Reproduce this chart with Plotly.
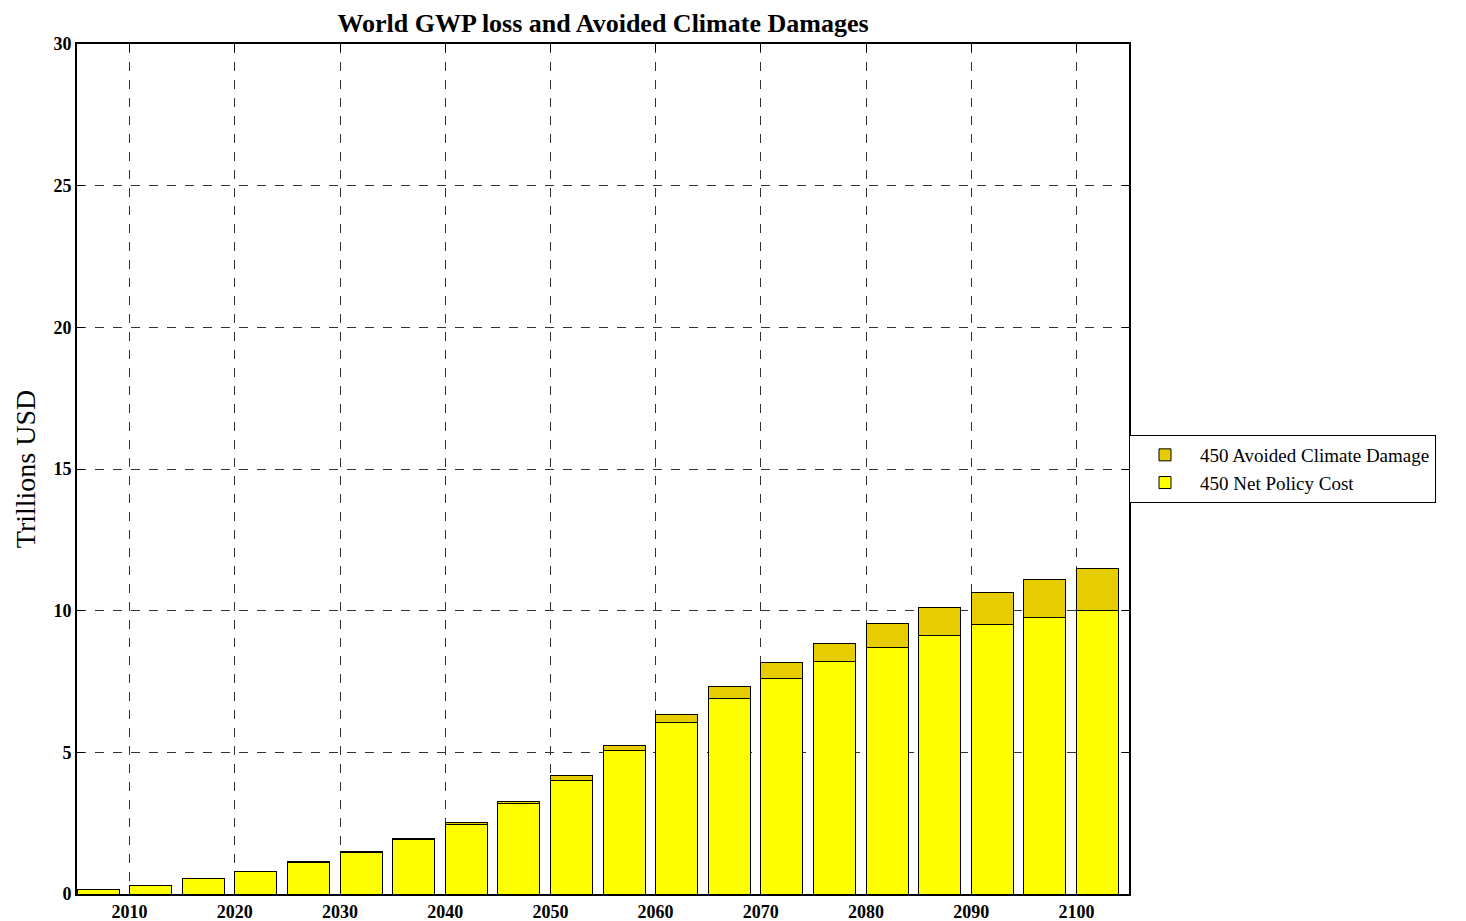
import plotly.graph_objects as go

years = list(range(2005, 2101, 5))
net_policy_cost = [0.15, 0.31, 0.55, 0.80, 1.12, 1.47, 1.93, 2.46, 3.20, 4.01,
                   5.05, 6.06, 6.91, 7.61, 8.20, 8.69, 9.14, 9.51, 9.75, 9.99]
avoided_damage = [0.005, 0.007, 0.01, 0.01, 0.01, 0.02, 0.04, 0.08, 0.08, 0.19,
                  0.20, 0.29, 0.42, 0.56, 0.65, 0.86, 0.98, 1.14, 1.34, 1.51]
x_ticks = list(range(2010, 2101, 10))
y_ticks = [0, 5, 10, 15, 20, 25, 30]

serif = "Liberation Serif, Times New Roman, serif"

fig = go.Figure()
fig.add_trace(go.Bar(
    x=years, y=net_policy_cost, name="450 Net Policy Cost",
    width=4, offset=0,
    marker=dict(color="#FFFF00", line=dict(color="black", width=1)),
))
fig.add_trace(go.Bar(
    x=years, y=avoided_damage, name="450 Avoided Climate Damage",
    width=4, offset=0,
    marker=dict(color="#E6CC00", line=dict(color="black", width=1)),
))

fig.update_layout(
    barmode="stack",
    width=1466, height=921,
    margin=dict(l=69, r=345, t=36, b=35, autoexpand=False),
    plot_bgcolor="white", paper_bgcolor="white",
    title=dict(text="World GWP loss and Avoided Climate Damages",
               x=(69 + 1121) / 2 / 1466, xanchor="center", y=1 - 6 / 921, yanchor="top",
               font=dict(family=serif, size=26, color="black", weight="bold")),
    legend=dict(
        x=1.0, xanchor="left", y=0.5, yanchor="middle",
        traceorder="reversed",
        bordercolor="black", borderwidth=1, bgcolor="white",
        font=dict(family=serif, size=19, color="black"),
        itemwidth=60,
        tracegroupgap=0,
    ),
    showlegend=True,
)
fig.update_xaxes(
    range=[2005, 2105], tickvals=x_ticks, ticktext=[str(t) for t in x_ticks],
    showline=True, linecolor="black", linewidth=2, mirror="ticks",
    ticks="inside", ticklen=7, tickcolor="black",
    showgrid=True, gridcolor="#333333", griddash="dash", gridwidth=1,
    zeroline=False, automargin=False,
    tickfont=dict(family=serif, size=18, color="black", weight="bold"),
)
fig.update_yaxes(
    range=[0, 30], tickvals=y_ticks,
    showline=True, linecolor="black", linewidth=2, mirror="ticks",
    ticks="inside", ticklen=7, tickcolor="black",
    showgrid=True, gridcolor="#333333", griddash="dash", gridwidth=1,
    zeroline=False, automargin=False,
    tickfont=dict(family=serif, size=18, color="black", weight="bold"),
    title=dict(text="Trillions USD", font=dict(family=serif, size=28, color="black"),
               standoff=10),
)

fig.write_html("out.html")
